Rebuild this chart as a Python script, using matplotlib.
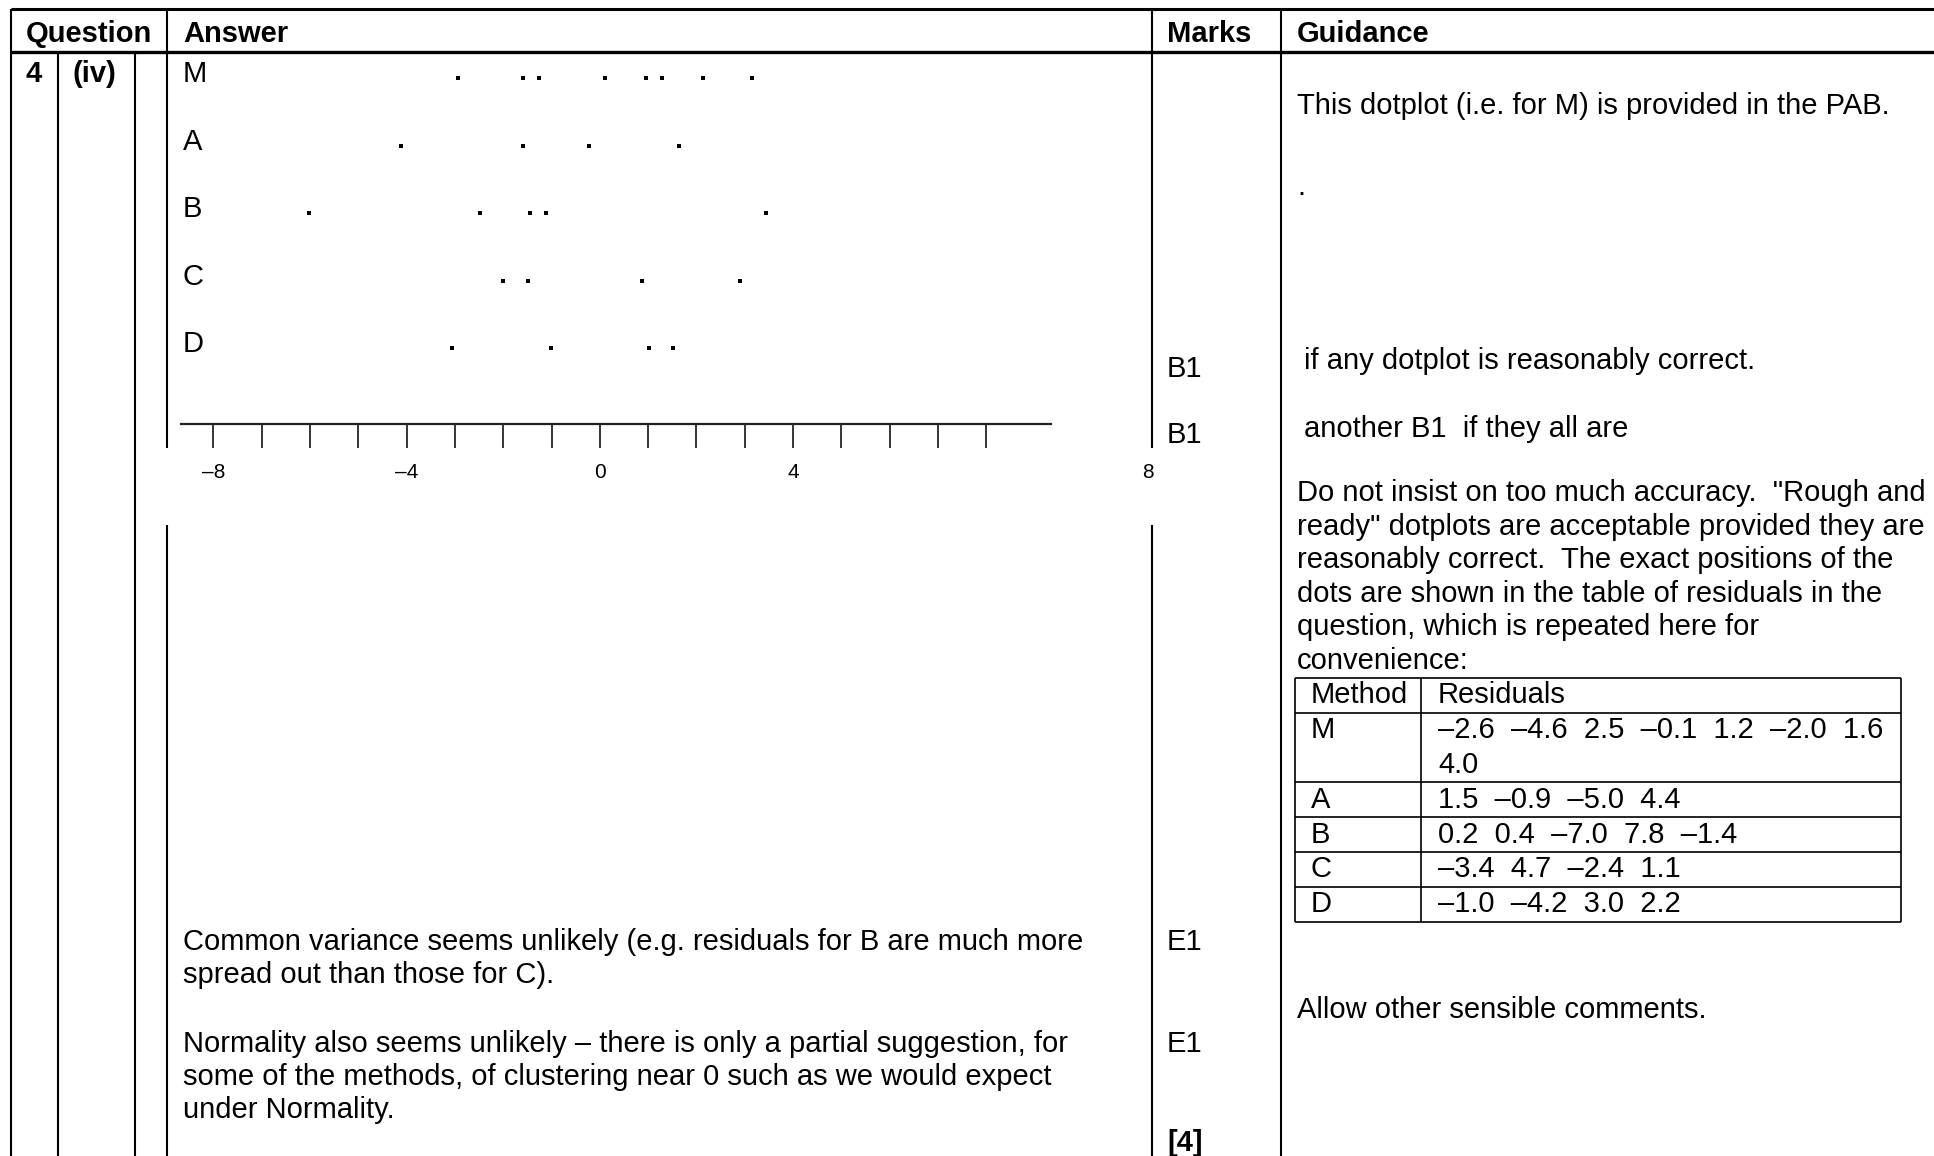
import matplotlib.pyplot as plt
from matplotlib.transforms import blended_transform_factory

plt.rcParams['font.family'] = ['Liberation Sans', 'DejaVu Sans']

W, H = 1934, 1156

# dotplot rows and the dot positions as drawn (tick units, ticks at -8..8)
methods = ['M', 'A', 'B', 'C', 'D']
dots_m = [-2.94, -1.58, -1.26, 0.11, 0.96, 1.29, 2.14, 3.15]
dots_a = [-4.11, -1.58, -0.22, 1.64]
dots_b = [-6.02, -2.48, -1.44, -1.12, 3.44]
dots_c = [-2.00, -1.49, 0.87, 2.90]
dots_d = [-3.06, -1.02, 1.01, 1.52]
tick_values = list(range(-8, 9))
tick_labels = ['–8', '', '', '', '–4', '', '', '', '0', '', '', '', '4', '', '', '', '']
stray_label = '8'
stray_label_x = 11.34

# residual table from the question
res_m = [-2.6, -4.6, 2.5, -0.1, 1.2, -2.0, 1.6, 4.0]
res_a = [1.5, -0.9, -5.0, 4.4]
res_b = [0.2, 0.4, -7.0, 7.8, -1.4]
res_c = [-3.4, 4.7, -2.4, 1.1]
res_d = [-1.0, -4.2, 3.0, 2.2]

guidance_para = [
    'Do not insist on too much accuracy.  "Rough and',
    'ready" dotplots are acceptable provided they are',
    'reasonably correct.  The exact positions of the',
    'dots are shown in the table of residuals in the',
    'question, which is repeated here for',
    'convenience:',
]
answer_lines_1 = [
    'Common variance seems unlikely (e.g. residuals for B are much more',
    'spread out than those for C).',
]
answer_lines_2 = [
    'Normality also seems unlikely – there is only a partial suggestion, for',
    'some of the methods, of clustering near 0 such as we would expect',
    'under Normality.',
]

FS = 21

fig = plt.figure(figsize=(W / 100, H / 100), dpi=100)
bg = fig.add_axes([0, 0, 1, 1])
bg.set_xlim(0, W)
bg.set_ylim(H, 0)
bg.axis('off')


def vline(x, y0, y1, lw=1.5):
    bg.plot([x, x], [y0, y1], color='black', lw=lw, solid_capstyle='butt')


def hline(y, x0, x1, lw=1.5):
    bg.plot([x0, x1], [y, y], color='black', lw=lw, solid_capstyle='butt')


def put(x, y, s, bold=False, ha='left', size=FS):
    # y is the visual centre of the line, text sits on a baseline ~10px lower
    bg.text(x, y + 10, s, fontsize=size, ha=ha, va='baseline',
            fontweight='bold' if bold else 'normal')


# outer grid
hline(9, 11, W, lw=2.2)
hline(52, 11, W, lw=2.4)
vline(11, 9, H)
vline(58, 52, H)
vline(135, 52, H)
vline(167, 9, 448)
vline(167, 525, H)
vline(1152, 9, 448)
vline(1152, 525, H)
vline(1281, 9, H)

# header
put(89, 32, 'Question', bold=True, ha='center')
put(183, 32, 'Answer', bold=True)
put(1167, 32, 'Marks', bold=True)
put(1297, 32, 'Guidance', bold=True)

put(26, 72, '4', bold=True)
put(72, 72, '(iv)', bold=True)

# dotplot
ax = fig.add_axes([181 / W, 1 - 424 / H, (1051 - 181) / W, (424 - 55) / H])
ax.patch.set_alpha(0)
ax.set_xlim(-8.67, 9.34)
ax.set_ylim(-1.128, 4.347)
for side in ['top', 'left', 'right']:
    ax.spines[side].set_visible(False)
ax.spines['bottom'].set_linewidth(1.6)
ax.spines['bottom'].set_color('#222222')
ax.set_yticks([])
ax.set_xticks(tick_values)
ax.set_xticklabels(tick_labels, fontsize=15)
ax.tick_params(axis='x', direction='out', length=17, width=1.1, pad=11)

all_dots = [dots_m, dots_a, dots_b, dots_c, dots_d]
lab_tr = blended_transform_factory(ax.transAxes, ax.transData)
for i, (name, vals) in enumerate(zip(methods, all_dots)):
    row = len(methods) - 1 - i
    ax.plot(vals, [row] * len(vals), 's', ms=2.9, color='black', mew=0)
    ax.text(0.002, row - 0.06, name, transform=lab_tr, fontsize=FS, va='baseline')

stray_tr = blended_transform_factory(ax.transData, ax.transAxes)
ax.text(stray_label_x, -0.107, stray_label, transform=stray_tr, fontsize=15,
        ha='center', va='top', clip_on=False)

# marks
put(1167, 367, 'B1')
put(1167, 433, 'B1')
put(1167, 940, 'E1')
put(1167, 1042, 'E1')
put(1167, 1141, '[4]', bold=True)

# guidance
put(1297, 104, 'This dotplot (i.e. for M) is provided in the PAB.')
put(1297, 185, '.')
put(1304, 359, 'if any dotplot is reasonably correct.')
put(1304, 427, 'another B1  if they all are')
for k, line in enumerate(guidance_para):
    put(1297, 491 + 33.6 * k, line)
put(1297, 1008, 'Allow other sensible comments.')

# answer comments
for k, line in enumerate(answer_lines_1):
    put(183, 940 + 33 * k, line)
for k, line in enumerate(answer_lines_2):
    put(183, 1042 + 33 * k, line)

# residual table
def fmt(v):
    return f'{v:.1f}'.replace('-', '–')

res_all = [res_m, res_a, res_b, res_c, res_d]
tx0, tx1, tx2 = 1295, 1421, 1901
row_h = 34.8
top = 678
y = top + row_h
hline(top, tx0, tx2, lw=1.2)
put(1311, top + row_h / 2 - 2, 'Method')
put(1438, top + row_h / 2 - 2, 'Residuals')
hline(y, tx0, tx2, lw=1.2)
for name, vals in zip(methods, res_all):
    chunks = [vals[j:j + 7] for j in range(0, len(vals), 7)]
    for c, chunk in enumerate(chunks):
        cy = y + row_h * c + row_h / 2 - 2
        if c == 0:
            put(1311, cy, name)
        put(1438, cy, '  '.join(fmt(v) for v in chunk))
    y += row_h * len(chunks)
    hline(y, tx0, tx2, lw=1.2)
vline(tx0, top, y, lw=1.2)
vline(tx1, top, y, lw=1.2)
vline(tx2, top, y, lw=1.2)

fig.savefig('out.png', dpi=100)
